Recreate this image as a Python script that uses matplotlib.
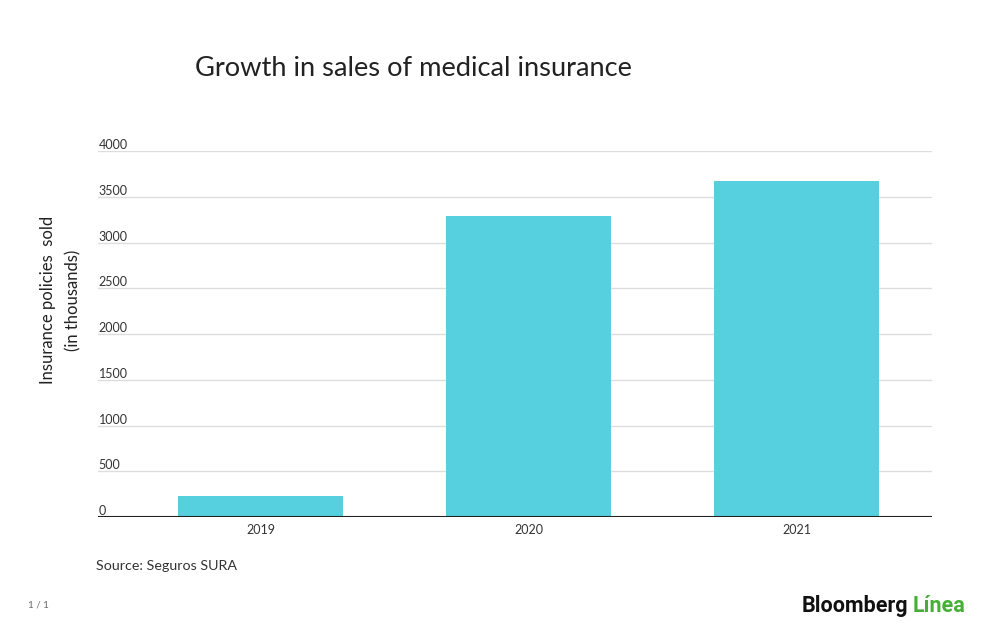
import matplotlib
matplotlib.use("Agg")
import matplotlib.pyplot as plt

years = ["2019", "2020", "2021"]
policies = [230, 3290, 3675]
yticks = [0, 500, 1000, 1500, 2000, 2500, 3000, 3500, 4000]

plt.rcParams['font.family'] = ['Lato', 'DejaVu Sans']

fig = plt.figure(figsize=(10, 6.33), dpi=100)
ax = fig.add_axes([0.098, 1 - 517/633, 0.834, (517 - 151)/633])

x = list(range(len(years)))
ax.bar(x, policies, width=0.616, color="#56d0de", zorder=3)
ax.set_xlim(-0.608, 2.504)
ax.set_ylim(0, 4000)

for t in yticks:
    if t > 0:
        ax.axhline(t, color="#dddddd", lw=1, zorder=1)
    ax.text(0.001, t, str(t), transform=ax.get_yaxis_transform(),
            ha="left", va="bottom", fontsize=9, color="#333333")
ax.axhline(0, color="#222222", lw=1.5, zorder=4)

ax.set_yticks([])
ax.set_xticks(x)
ax.set_xticklabels(years, fontsize=9, color="#333333")
ax.tick_params(axis="x", length=0, pad=5)
for s in ax.spines.values():
    s.set_visible(False)

fig.text(0.195, 1 - 68/633, "Growth in sales of medical insurance",
         fontsize=19.6, ha="left", va="center", color="#222222")
fig.text(0.048, 1 - 300/633, "Insurance policies  sold", rotation=90,
         fontsize=12, ha="center", va="center", color="#222222")
fig.text(0.073, 1 - 300/633, "(in thousands)", rotation=90,
         fontsize=12, ha="center", va="center", color="#222222")
fig.text(0.096, 1 - 566/633, "Source: Seguros SURA", fontsize=10.3,
         ha="left", va="center", color="#333333")
fig.text(0.028, 1 - 605/633, "1 / 1", fontsize=7, ha="left", va="center",
         color="#666666")
t1 = fig.text(0.802, 1 - 606/633, "Bloomberg", fontsize=15.5, fontweight="bold",
              ha="left", va="center", color="#111111", family=["Roboto", "DejaVu Sans"])
fig.canvas.draw()
bb = t1.get_window_extent()
fig.text(bb.x1 / 1000 + 0.004, 1 - 606/633, "Línea", fontsize=15.5, fontweight="bold",
         ha="left", va="center", color="#45b035", family=["Roboto", "DejaVu Sans"])

fig.savefig("out.png", dpi=100, facecolor="white")
